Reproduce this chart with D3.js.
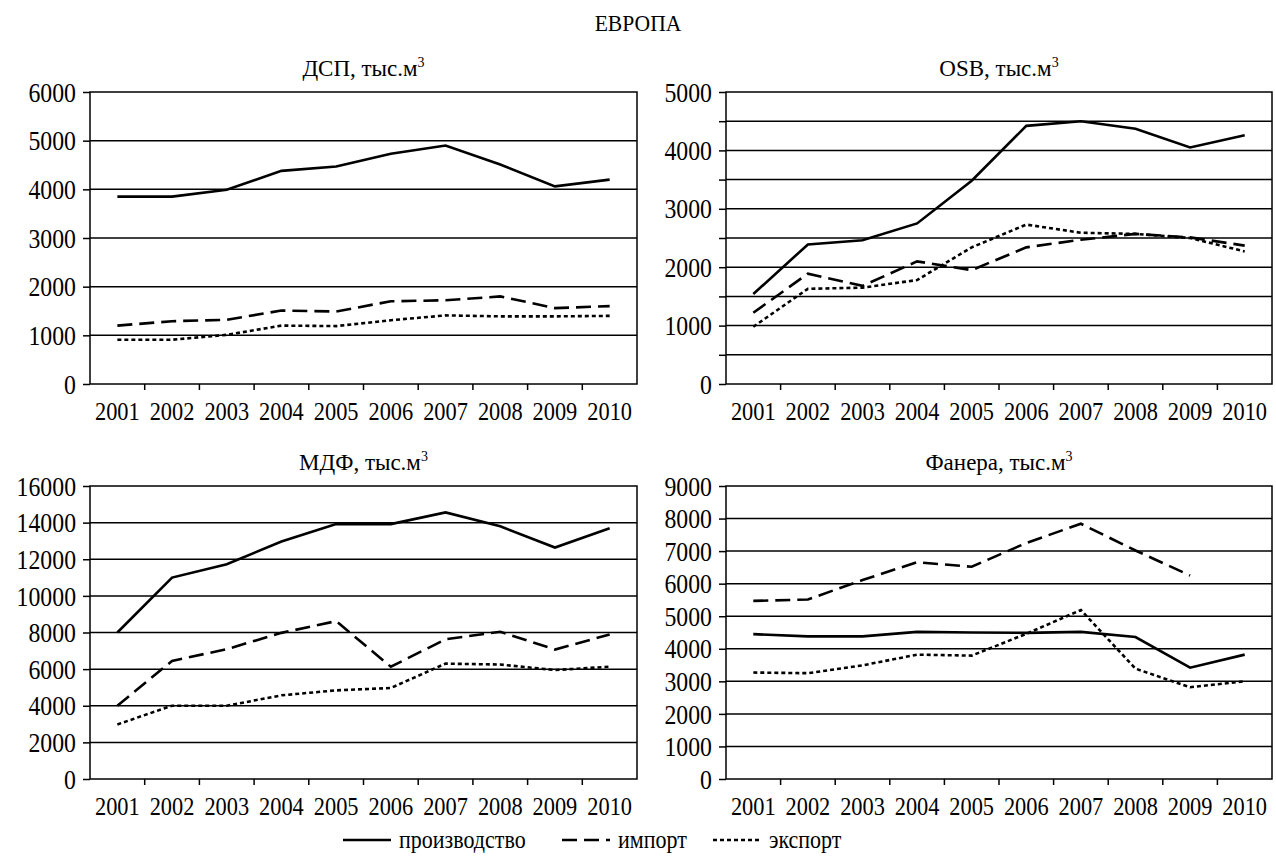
<!DOCTYPE html>
<html>
<head>
<meta charset="utf-8">
<script src="https://cdn.jsdelivr.net/npm/d3@7"></script>
<style>
  body { margin: 0; background: #fff; }
</style>
</head>
<body>
<svg id="chart" width="1276" height="858"></svg>
<script>
const years = ["2001", "2002", "2003", "2004", "2005", "2006", "2007", "2008", "2009", "2010"];

// ДСП
const dspProd = [3850, 3850, 3990, 4380, 4470, 4730, 4900, 4510, 4060, 4200];
const dspImport = [1200, 1290, 1320, 1510, 1490, 1700, 1720, 1800, 1560, 1600];
const dspExport = [910, 910, 1010, 1200, 1190, 1310, 1410, 1390, 1390, 1400];
// OSB
const osbProd = [1540, 2390, 2460, 2750, 3480, 4420, 4500, 4370, 4050, 4260];
const osbImport = [1220, 1890, 1680, 2100, 1950, 2340, 2470, 2570, 2510, 2370];
const osbExport = [980, 1630, 1650, 1780, 2340, 2730, 2590, 2570, 2500, 2270];
// МДФ
const mdfProd = [8000, 11000, 11730, 12970, 13920, 13920, 14560, 13800, 12640, 13690];
const mdfImport = [4000, 6450, 7090, 7980, 8620, 6130, 7630, 8040, 7070, 7890];
const mdfExport = [2980, 4000, 4000, 4570, 4840, 4970, 6300, 6250, 5950, 6130];
// Фанера
const plyProd = [4450, 4380, 4380, 4520, 4500, 4490, 4520, 4360, 3420, 3820];
const plyImport = [5470, 5515, 6110, 6660, 6520, 7250, 7840, 7020, 6250, null];
const plyExport = [3270, 3250, 3490, 3820, 3790, 4460, 5190, 3390, 2820, 3000];

const panelTitles = ["ДСП", "OSB", "МДФ", "Фанера"];
const yMaxes = [6000, 5000, 16000, 9000];
const gridSteps = [1000, 500, 2000, 1000];
const labelSteps = [1000, 1000, 2000, 1000];
const seriesNames = ["производство", "импорт", "экспорт"];

const panelData = [
  [dspProd, dspImport, dspExport],
  [osbProd, osbImport, osbExport],
  [mdfProd, mdfImport, mdfExport],
  [plyProd, plyImport, plyExport]
];

const dashes = [null, "15,7", "4,3"];
const FONT = "'Liberation Serif', 'DejaVu Serif', serif";

const svg = d3.select("#chart");

// squeeze text horizontally, the source font is a narrow Times
function condense(sel, k) {
  sel.each(function () {
    const w = this.getComputedTextLength();
    if (w > 0) {
      d3.select(this)
        .attr("textLength", w * k)
        .attr("lengthAdjust", "spacingAndGlyphs");
    }
  });
}

// main title
svg.append("text")
  .attr("x", 638).attr("y", 31)
  .attr("text-anchor", "middle")
  .style("font-family", FONT)
  .style("font-size", "24px")
  .text("ЕВРОПА")
  .call(condense, 0.9);

// frame boxes for each panel
const frames = [
  { left: 90, right: 637, top: 92, bottom: 384 },
  { left: 726, right: 1272, top: 92, bottom: 384 },
  { left: 90, right: 637, top: 486, bottom: 779 },
  { left: 726, right: 1272, top: 486, bottom: 779 }
];

frames.forEach((f, i) => {
  const g = svg.append("g");

  const x = d3.scaleBand().domain(years).range([f.left, f.right]);
  const y = d3.scaleLinear().domain([0, yMaxes[i]]).range([f.bottom, f.top]);

  const gridVals = d3.range(0, yMaxes[i] + 1, gridSteps[i]);

  // horizontal grid lines
  g.append("g")
    .selectAll("line")
    .data(gridVals.filter(v => v > 0 && v < yMaxes[i]))
    .join("line")
    .attr("x1", f.left).attr("x2", f.right)
    .attr("y1", d => y(d)).attr("y2", d => y(d))
    .attr("stroke", "#000")
    .attr("stroke-width", 1.5);

  // y axis
  const yAxis = d3.axisLeft(y)
    .tickValues(gridVals)
    .tickSize(7)
    .tickPadding(7)
    .tickFormat(v => v % labelSteps[i] === 0 ? v : "");
  const ya = g.append("g")
    .attr("transform", `translate(${f.left},0)`)
    .call(yAxis);
  ya.select(".domain").remove();
  ya.selectAll(".tick line").attr("stroke", "#000").attr("stroke-width", 1.5);
  ya.selectAll(".tick text")
    .attr("fill", "#000")
    .style("font-size", "27px")
    .style("font-family", FONT)
    .attr("dy", "0.34em")
    .call(condense, 0.88);

  // frame
  g.append("rect")
    .attr("x", f.left).attr("y", f.top)
    .attr("width", f.right - f.left).attr("height", f.bottom - f.top)
    .attr("fill", "none")
    .attr("stroke", "#000")
    .attr("stroke-width", 1.5);

  // x ticks at band boundaries
  g.append("g")
    .selectAll("line")
    .data(years.slice(1))
    .join("line")
    .attr("x1", d => x(d)).attr("x2", d => x(d))
    .attr("y1", f.bottom).attr("y2", f.bottom + 6)
    .attr("stroke", "#000")
    .attr("stroke-width", 1.5);

  // x labels
  g.append("g")
    .selectAll("text")
    .data(years)
    .join("text")
    .attr("x", d => x(d) + x.bandwidth() / 2)
    .attr("y", f.bottom + 36)
    .attr("text-anchor", "middle")
    .style("font-family", FONT)
    .style("font-size", "26px")
    .text(d => d)
    .call(condense, 0.86);

  // panel title with superscript
  const t = g.append("text")
    .attr("x", (f.left + f.right) / 2)
    .attr("y", f.top - 16)
    .attr("text-anchor", "middle")
    .style("font-family", FONT)
    .style("font-size", "23px");
  t.append("tspan").text(panelTitles[i] + ", тыс.м");
  t.append("tspan").attr("dy", -9).style("font-size", "14px").text("3");

  // series lines
  const line = d3.line()
    .defined(d => d != null)
    .x((d, k) => x(years[k]) + x.bandwidth() / 2)
    .y(d => y(d));

  panelData[i].forEach((vals, s) => {
    g.append("path")
      .datum(vals)
      .attr("d", line)
      .attr("fill", "none")
      .attr("stroke", "#000")
      .attr("stroke-width", 2.6)
      .attr("stroke-dasharray", dashes[s]);
  });
});

// legend
const legendX = [343, 562, 713];
const legend = svg.append("g");
seriesNames.forEach((name, s) => {
  legend.append("line")
    .attr("x1", legendX[s]).attr("x2", legendX[s] + 48)
    .attr("y1", 840).attr("y2", 840)
    .attr("stroke", "#000")
    .attr("stroke-width", 2.6)
    .attr("stroke-dasharray", dashes[s]);
  legend.append("text")
    .attr("x", legendX[s] + 56)
    .attr("y", 848)
    .style("font-family", FONT)
    .style("font-size", "25px")
    .text(name)
    .call(condense, 0.88);
});
</script>
</body>
</html>
